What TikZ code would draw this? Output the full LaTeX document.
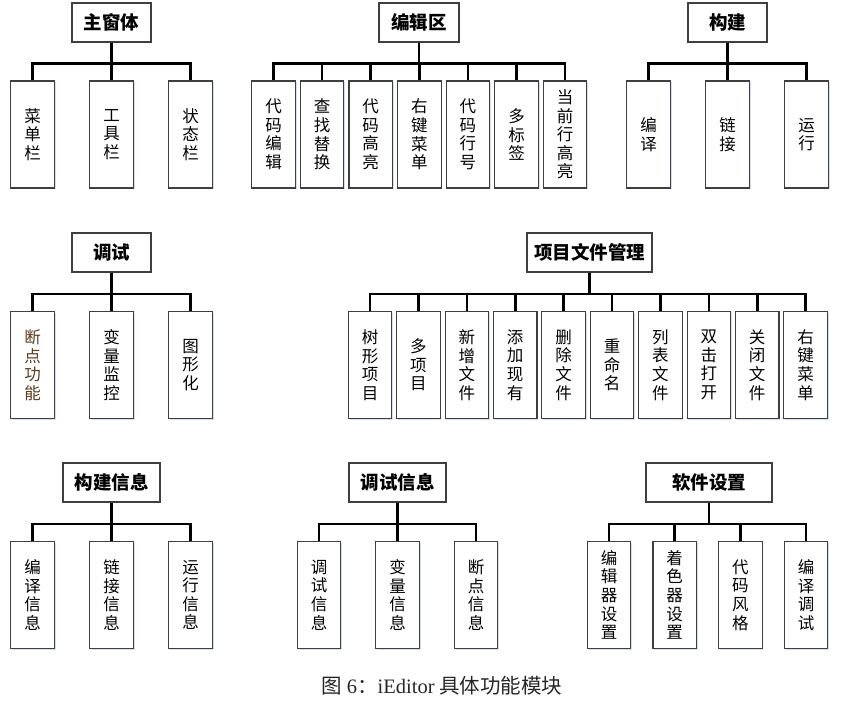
\documentclass[tikz,border=0pt]{standalone}
\usepackage{fontspec}
\setmainfont{Noto Sans CJK SC}
\newfontfamily\latinserif{Liberation Serif}
\usepackage{tikz}
\usetikzlibrary{shadows}
\definecolor{ieLine}{HTML}{3F3F3F}
\definecolor{ieShade}{HTML}{CFDBEE}
\definecolor{ieBrown}{HTML}{5C3B1E}

\begin{document}
\begin{tikzpicture}[x=1pt, y=-1pt,
  mb/.style={draw=ieLine,fill=white,line width=1.1pt,minimum height=39pt,inner sep=0pt,
    font=\fontsize{18.5}{20}\selectfont\bfseries,
    drop shadow={shadow xshift=1.3pt,shadow yshift=-1.3pt,fill=ieShade,opacity=0.9}},
  fb/.style={draw=ieLine,fill=white,line width=1.1pt,minimum width=43.5pt,minimum height=107pt,
    inner sep=0pt,align=center,font=\fontsize{16.5}{18.6}\selectfont,
    drop shadow={shadow xshift=1.3pt,shadow yshift=-1.3pt,fill=ieShade,opacity=0.9}},
  br/.style={black,line width=2.6pt}]
\useasboundingbox (0,0) rectangle (842,704);
% first row
\node[mb,minimum width=79pt] (m1) at (111.5,22.5) {主窗体};
\foreach \t [count=\k] in {{菜\\单\\栏},{工\\具\\栏},{状\\态\\栏}}
  \node[fb] (f1\k) at ({32.5+(\k-1)*79},134.5) {\t};
\foreach \k in {1,...,3} \draw[br] (m1.south) -- ++(0,21) -| (f1\k.north);
\node[mb,minimum width=80pt] (m2) at (419,22.5) {编辑区};
\foreach \t [count=\k] in {{代\\码\\编\\辑},{查\\找\\替\\换},{代\\码\\高\\亮},{右\\键\\菜\\单},
    {代\\码\\行\\号},{多\\标\\签},{当\\前\\行\\高\\亮}}
  \node[fb] (f2\k) at ({273.5+(\k-1)*48.6},134.5) {\t};
\foreach \k in {1,...,7} \draw[br] (m2.south) -- ++(0,21) -| (f2\k.north);
\node[mb,minimum width=79pt] (m3) at (727.5,22.5) {构建};
\foreach \t [count=\k] in {{编\\译},{链\\接},{运\\行}}
  \node[fb] (f3\k) at ({648.5+(\k-1)*79},134.5) {\t};
\foreach \k in {1,...,3} \draw[br] (m3.south) -- ++(0,21) -| (f3\k.north);
% second row
\node[mb,minimum width=79pt] (m4) at (111.5,252.5) {调试};
\foreach \t [count=\k] in {{\color{ieBrown}断\\\color{ieBrown}点\\\color{ieBrown}功\\\color{ieBrown}能},
    {变\\量\\监\\控},{图\\形\\化}}
  \node[fb] (f4\k) at ({32.5+(\k-1)*79},365) {\t};
\foreach \k in {1,...,3} \draw[br] (m4.south) -- ++(0,21.5) -| (f4\k.north);
\node[mb,minimum width=125pt] (m5) at (589.5,252.5) {项目文件管理};
\foreach \t [count=\k] in {{树\\形\\项\\目},{多\\项\\目},{新\\增\\文\\件},{添\\加\\现\\有},{删\\除\\文\\件},
    {重\\命\\名},{列\\表\\文\\件},{双\\击\\打\\开},{关\\闭\\文\\件},{右\\键\\菜\\单}}
  \node[fb] (f5\k) at ({370+(\k-1)*48.4},365) {\t};
\foreach \k in {1,...,10} \draw[br] (m5.south) -- ++(0,21.5) -| (f5\k.north);
% third row
\node[mb,minimum width=97pt] (m6) at (111.5,482.5) {构建信息};
\foreach \t [count=\k] in {{编\\译\\信\\息},{链\\接\\信\\息},{运\\行\\信\\息}}
  \node[fb] (f6\k) at ({32.5+(\k-1)*79},595) {\t};
\foreach \k in {1,...,3} \draw[br] (m6.south) -- ++(0,21.5) -| (f6\k.north);
\node[mb,minimum width=97pt] (m7) at (397.5,482.5) {调试信息};
\foreach \t [count=\k] in {{调\\试\\信\\息},{变\\量\\信\\息},{断\\点\\信\\息}}
  \node[fb] (f7\k) at ({319+(\k-1)*78.5},595) {\t};
\foreach \k in {1,...,3} \draw[br] (m7.south) -- ++(0,21.5) -| (f7\k.north);
\node[mb,minimum width=126pt] (m8) at (709,482.5) {软件设置};
\foreach \t [count=\k] in {{编\\辑\\器\\设\\置},{着\\色\\器\\设\\置},{代\\码\\风\\格},{编\\译\\调\\试}}
  \node[fb] (f8\k) at ({609+(\k-1)*65.7},595) {\t};
\foreach \k in {1,...,4} \draw[br] (m8.south) -- ++(0,21.5) -| (f8\k.north);
\node[font=\fontsize{20.5}{22}\selectfont,text=black!85] (cap) at (442,686)
  {图 {\latinserif 6}：{\latinserif iEditor} 具体功能模块};
\end{tikzpicture}
\end{document}
